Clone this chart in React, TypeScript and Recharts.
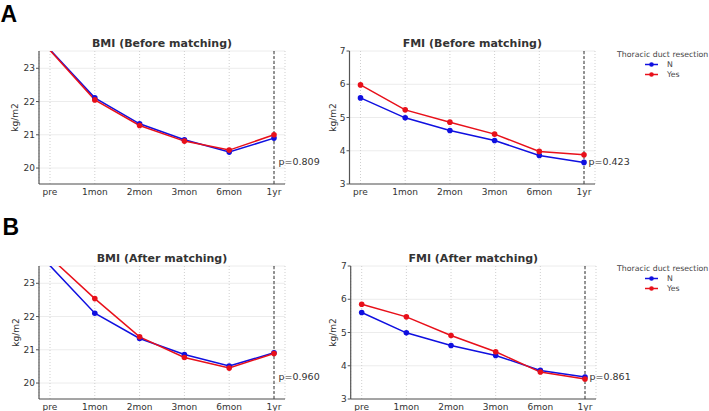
import React from 'react';
import { LineChart, Line, XAxis, YAxis, CartesianGrid, ReferenceLine, Legend } from 'recharts';

// Time points on the x axis
const timepoints = ['pre', '1mon', '2mon', '3mon', '6mon', '1yr'];

// Group names (thoracic duct resection: no / yes)
const groupNames = ['N', 'Yes'];

// BMI before matching
const bmiBeforeN = [23.56, 22.11, 21.33, 20.85, 20.48, 20.9];
const bmiBeforeYes = [23.54, 22.05, 21.28, 20.81, 20.54, 21.0];

// FMI before matching
const fmiBeforeN = [5.59, 4.99, 4.61, 4.31, 3.86, 3.65];
const fmiBeforeYes = [5.98, 5.23, 4.86, 4.5, 3.98, 3.88];

// BMI after matching
const bmiAfterN = [23.53, 22.1, 21.34, 20.86, 20.51, 20.91];
const bmiAfterYes = [23.78, 22.54, 21.39, 20.77, 20.45, 20.89];

// FMI after matching
const fmiAfterN = [5.6, 4.99, 4.61, 4.31, 3.86, 3.66];
const fmiAfterYes = [5.85, 5.47, 4.91, 4.42, 3.81, 3.6];

// Axis ticks and domains
const bmiTicks = [20, 21, 22, 23];
const fmiTicks = [3, 4, 5, 6, 7];
const bmiDomain: [number, number] = [19.52, 23.52];
const fmiDomain: [number, number] = [3, 7];

// p-values at one year
const pBmiBefore = 'p=0.809';
const pFmiBefore = 'p=0.423';
const pBmiAfter = 'p=0.960';
const pFmiAfter = 'p=0.861';

const colorN = '#1010e0';
const colorYes = '#e8101a';
const textColor = '#333';
const axisColor = '#555';
const FONT = '"DejaVu Sans", Verdana, sans-serif';

const buildRows = (n: number[], yes: number[]) =>
  timepoints.map((t, i) => ({ time: t, N: n[i], Yes: yes[i] }));

// Dot that is hidden when the value lies above the visible range
const makeDot = (color: string, maxValue: number) => (props: any) => {
  const { cx, cy, value, index } = props;
  if (cx == null || cy == null || value > maxValue) {
    return <g key={`d-${index}`} />;
  }
  return <circle key={`d-${index}`} cx={cx} cy={cy} r={2.8} fill={color} stroke="none" />;
};

const PLabel = (props: any) => {
  const { viewBox, text } = props;
  if (!viewBox) return null;
  return (
    <text
      x={viewBox.x + 4.5}
      y={viewBox.y + viewBox.height - 22.5}
      dominantBaseline="central"
      fontSize={9.5}
      fontFamily={FONT}
      fill={textColor}
    >
      {text}
    </text>
  );
};

const YLabel = (props: any) => {
  const { viewBox, labelX } = props;
  if (!viewBox) return null;
  const cy = viewBox.y + viewBox.height / 2;
  return (
    <text
      x={labelX}
      y={cy}
      transform={`rotate(-90 ${labelX} ${cy})`}
      textAnchor="middle"
      dominantBaseline="central"
      fontSize={9}
      fontFamily={FONT}
      fill={textColor}
    >
      kg/m2
    </text>
  );
};

const LegendContent = (props: any) => {
  const { payload } = props;
  const items = (payload || []).filter((p: any) => groupNames.includes(p.value));
  return (
    <svg width={92} height={34} style={{ display: 'block', overflow: 'visible' }}>
      <text x={0} y={6} dominantBaseline="central" fontSize={7.8} fontFamily={FONT} fill="#444">
        Thoracic duct resection
      </text>
      {items.map((p: any, i: number) => {
        const y = 16.5 + i * 10;
        return (
          <g key={p.value}>
            <line x1={28} x2={41} y1={y} y2={y} stroke={p.color} strokeWidth={1.5} />
            <circle cx={34.5} cy={y} r={2.3} fill={p.color} />
            <text x={50} y={y} dominantBaseline="central" fontSize={7.8} fontFamily={FONT} fill="#444">
              {p.value}
            </text>
          </g>
        );
      })}
    </svg>
  );
};

type PanelProps = {
  left: number;
  top: number;
  width: number;
  height: number;
  margin: { top: number; right: number; bottom: number; left: number };
  xAxisHeight: number;
  n: number[];
  yes: number[];
  domain: [number, number];
  ticks: number[];
  pText: string;
  yLabelX: number;
  legendPos?: { left: number; top: number };
};

const Panel = ({ left, top, width, height, margin, xAxisHeight, n, yes, domain, ticks, pText, yLabelX, legendPos }: PanelProps) => {
  const rows = buildRows(n, yes);
  return (
    <div style={{ position: 'absolute', left, top, width, height }}>
      <LineChart width={width} height={height} data={rows} margin={margin}>
        <CartesianGrid horizontal vertical={false} stroke="#ececec" />
        <CartesianGrid horizontal={false} vertical stroke="#cfcfcf" strokeDasharray="1 2" />
        <XAxis
          dataKey="time"
          padding={{ left: 11, right: 11 }}
          height={xAxisHeight}
          tickLine={false}
          tickSize={3}
          tickMargin={2}
          axisLine={{ stroke: axisColor, strokeWidth: 1.2 }}
          tick={{ fontSize: 9, fontFamily: FONT, fill: textColor }}
          interval={0}
        />
        <YAxis
          width={30}
          domain={domain}
          ticks={ticks}
          allowDataOverflow
          type="number"
          tickSize={3}
          tickMargin={1}
          tickLine={{ stroke: axisColor }}
          axisLine={{ stroke: axisColor, strokeWidth: 1.2 }}
          tick={{ fontSize: 9, fontFamily: FONT, fill: textColor }}
          label={<YLabel labelX={yLabelX} />}
        />
        <ReferenceLine
          x="1yr"
          stroke="#333"
          strokeWidth={1}
          strokeDasharray="3 2"
          label={<PLabel text={pText} />}
        />
        <Line
          type="linear"
          dataKey="N"
          name={groupNames[0]}
          stroke={colorN}
          strokeWidth={1.5}
          dot={makeDot(colorN, domain[1])}
          activeDot={false}
          isAnimationActive={false}
        />
        <Line
          type="linear"
          dataKey="Yes"
          name={groupNames[1]}
          stroke={colorYes}
          strokeWidth={1.5}
          dot={makeDot(colorYes, domain[1])}
          activeDot={false}
          isAnimationActive={false}
        />
        {legendPos && (
          <Legend
            layout="horizontal"
            verticalAlign="middle"
            align="center"
            content={<LegendContent />}
            wrapperStyle={{ position: 'absolute', left: legendPos.left, top: legendPos.top, width: 92, height: 34 }}
          />
        )}
      </LineChart>
    </div>
  );
};

export default function App() {
  return (
    <div
      style={{
        position: 'absolute',
        left: 0,
        top: 0,
        width: 709,
        height: 411,
        background: '#fff',
        overflow: 'hidden',
      }}
    >
      <Panel
        left={0}
        top={0}
        width={325}
        height={200}
        margin={{ top: 51, right: 40, bottom: 0, left: 9 }}
        xAxisHeight={16}
        n={bmiBeforeN}
        yes={bmiBeforeYes}
        domain={bmiDomain}
        ticks={bmiTicks}
        pText={pBmiBefore}
        yLabelX={15}
      />
      <Panel
        left={300}
        top={0}
        width={409}
        height={200}
        margin={{ top: 51, right: 114, bottom: 0, left: 19.5 }}
        xAxisHeight={16}
        n={fmiBeforeN}
        yes={fmiBeforeYes}
        domain={fmiDomain}
        ticks={fmiTicks}
        pText={pFmiBefore}
        yLabelX={32.7}
        legendPos={{ left: 317, top: 48 }}
      />
      <Panel
        left={0}
        top={200}
        width={325}
        height={211}
        margin={{ top: 66, right: 40, bottom: 0, left: 9 }}
        xAxisHeight={12}
        n={bmiAfterN}
        yes={bmiAfterYes}
        domain={bmiDomain}
        ticks={bmiTicks}
        pText={pBmiAfter}
        yLabelX={16}
      />
      <Panel
        left={300}
        top={200}
        width={409}
        height={211}
        margin={{ top: 66, right: 113, bottom: 0, left: 20.7 }}
        xAxisHeight={12}
        n={fmiAfterN}
        yes={fmiAfterYes}
        domain={fmiDomain}
        ticks={fmiTicks}
        pText={pFmiAfter}
        yLabelX={32.7}
        legendPos={{ left: 317, top: 62 }}
      />
      <svg
        width={709}
        height={411}
        style={{ position: 'absolute', left: 0, top: 0, pointerEvents: 'none' }}
      >
        <text x={0.5} y={21.7} fontSize={23} fontWeight="bold" fontFamily='"Liberation Sans", Arial, sans-serif' fill="#000">
          A
        </text>
        <text x={2.5} y={235} fontSize={23} fontWeight="bold" fontFamily='"Liberation Sans", Arial, sans-serif' fill="#000">
          B
        </text>
        <text x={162} y={43} textAnchor="middle" dominantBaseline="central" fontSize={11} fontWeight="bold" fontFamily={FONT} fill={textColor}>
          BMI (Before matching)
        </text>
        <text x={472.3} y={43} textAnchor="middle" dominantBaseline="central" fontSize={11} fontWeight="bold" fontFamily={FONT} fill={textColor}>
          FMI (Before matching)
        </text>
        <text x={162} y={258} textAnchor="middle" dominantBaseline="central" fontSize={11} fontWeight="bold" fontFamily={FONT} fill={textColor}>
          BMI (After matching)
        </text>
        <text x={473.3} y={258} textAnchor="middle" dominantBaseline="central" fontSize={11} fontWeight="bold" fontFamily={FONT} fill={textColor}>
          FMI (After matching)
        </text>
      </svg>
    </div>
  );
}
